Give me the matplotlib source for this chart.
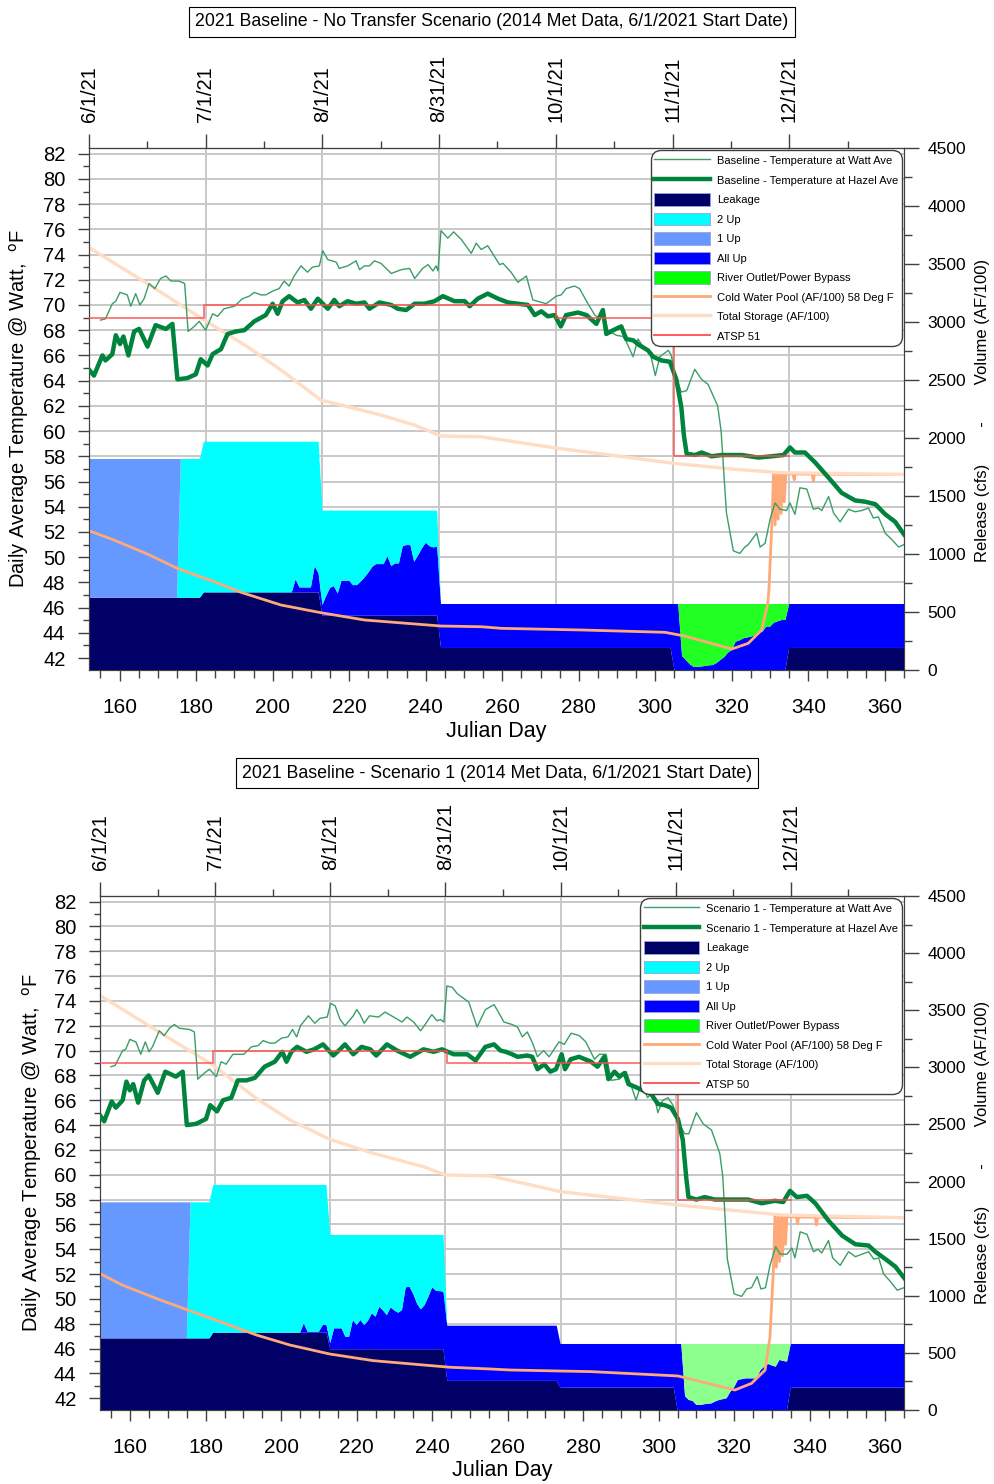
import numpy as np
import matplotlib
matplotlib.use('Agg')
import matplotlib.pyplot as plt
from matplotlib.lines import Line2D
from matplotlib.patches import Patch
from matplotlib.ticker import MultipleLocator, FixedLocator

plt.rcParams['font.family'] = ['Liberation Sans', 'DejaVu Sans']

# ---------------- data ----------------
DAY = np.arange(152, 366)                      # julian day, one value per day
MONTH_TICKS = [152, 182.5, 213, 243.5, 274, 304.5, 335]
MONTH_LABELS = ['6/1/21', '7/1/21', '8/1/21', '8/31/21', '10/1/21', '11/1/21', '12/1/21']

TITLES = ['2021 Baseline - No Transfer Scenario (2014 Met Data, 6/1/2021 Start Date)',
          '2021 Baseline - Scenario 1 (2014 Met Data, 6/1/2021 Start Date)']
RUN_NAMES = ['Baseline', 'Scenario 1']
ATSP_NAMES = ['ATSP 51', 'ATSP 50']

# release (cfs): constant pieces + daily All Up values
P1_LEAK = np.repeat([623, 669, 468, 190, 0, 190], [30, 31, 31, 61, 30, 31])
P1_TOTAL = np.repeat([1819, 1968, 1374, 569], [30, 31, 31, 122])
P1_ALLUP = np.concatenate([
    [0] * 53,
    [0, 112, 43, 43, 43, 43, 227, 164,
     92, 172, 240, 256, 192, 302, 302, 302, 264, 264, 293, 330, 371, 420, 445, 445,
     445, 514, 428, 451, 451, 600, 609, 609, 465, 520, 580, 629, 600, 589, 595],
    [379] * 61,
    [569, 569, 120, 86, 50, 28, 28, 30, 35, 40, 43, 60, 86, 110, 150, 172, 244, 255,
     273, 280, 287, 300, 320, 330, 374, 374, 408, 420, 431, 431],
    [379] * 31])

P2_LEAK = np.repeat([627, 677, 531, 255, 196, 0, 196], [30, 31, 31, 30, 31, 30, 31])
P2_TOTAL = np.repeat([1818, 1970, 1532, 738, 578], [30, 31, 31, 30, 92])
P2_ALLUP = np.concatenate([
    [0] * 53,
    [0, 82, 9, 9, 9, 9, 67, 67,
     53, 184, 184, 184, 111, 111, 257, 213, 257, 213, 250, 315, 286, 373, 340, 300,
     368, 340, 321, 344, 543, 548, 484, 400, 350, 388, 460, 543, 514, 510, 505],
    [483] * 30,
    [382] * 31,
    [578, 578, 120, 88, 80, 44, 44, 50, 55, 58, 75, 88, 95, 102, 160, 200, 263, 270,
     277, 277, 277, 277, 350, 380, 403, 390, 379, 438, 430, 423],
    [382] * 31])

# volumes (AF/100)
P1_CWP = [(152.2, 1198), (158.5, 1121), (167.3, 999), (175.1, 876), (184.7, 761), (191.7, 670),
          (202.2, 560), (212.6, 494), (224, 431), (237.1, 397), (244, 379), (254.5, 373),
          (259.8, 359), (280.7, 345), (302.5, 325), (307.7, 293), (320, 181), (324.3, 230),
          (327.8, 345), (329.4, 575), (329.7, 690), (330.4, 1207), (330.9, 1690), (331.3, 1250),
          (331.7, 1690), (332.1, 1300), (332.5, 1690), (332.9, 1350), (333.3, 1690), (333.7, 1450),
          (334.1, 1690), (336, 1690), (336.3, 1640), (336.6, 1690), (341, 1688), (341.3, 1630),
          (341.6, 1688), (365.0, 1686)]
P1_STORAGE = [(152.2, 3638), (167, 3336), (182.1, 3017), (193.4, 2787), (202.2, 2586),
              (212.6, 2327), (219.6, 2270), (228.3, 2198), (237, 2112), (244, 2017),
              (254.5, 2011), (274.6, 1911), (305.1, 1781), (320.8, 1730), (333, 1701),
              (365.0, 1686)]
P2_CWP = [(152.2, 1191), (157.9, 1094), (166.8, 978), (175.2, 876), (184.6, 764), (193.4, 657),
          (202.3, 569), (212.9, 490), (224.4, 432), (237.7, 394), (244.8, 374), (255.5, 359),
          (260.8, 350), (282.1, 336), (305.1, 298), (320.2, 175), (324.6, 233), (328.2, 350),
          (329.5, 642), (330.4, 1226), (330.8, 1693), (331.2, 1250), (331.6, 1693), (332.0, 1300),
          (332.4, 1693), (332.8, 1350), (333.2, 1693), (333.6, 1450), (334.0, 1693), (336.5, 1690),
          (336.8, 1630), (337.1, 1690), (341.5, 1688), (341.8, 1620), (342.1, 1688), (365.0, 1684)]
P2_STORAGE = [(152.2, 3625), (166.8, 3327), (181.9, 3020), (193.4, 2728), (202.3, 2539),
              (212.9, 2369), (224.4, 2247), (237.7, 2130), (243.5, 2058), (255.5, 2049),
              (274.1, 1911), (305.1, 1795), (332.6, 1707), (365.0, 1684)]

# temperature target (deg F), step after each day
P1_ATSP_DAY = [152, 182, 274, 305, 335]
P1_ATSP_T = [69, 70, 69, 58, 58]
P2_ATSP_DAY = [152, 182, 244, 305, 335]
P2_ATSP_T = [69, 70, 69, 58, 58]

# daily average temperatures (deg F)
P1_HAZEL = [(152.2, 64.8), (153.3, 64.4), (155.5, 66.0), (156.3, 65.6), (158.1, 66.1), (159.0, 67.6),
            (160.1, 66.9), (161.0, 67.5), (162.3, 66.0), (163.8, 67.9), (165.1, 68.1), (167.3, 66.7),
            (169.4, 68.4), (172.1, 68.1), (173.8, 68.5), (175.1, 64.1), (177.7, 64.2), (179.9, 64.5),
            (181.2, 65.7), (183.0, 65.2), (184.3, 66.1), (186.5, 66.5), (188.2, 67.7), (190.4, 67.9),
            (192.6, 68.0), (195.2, 68.7), (198.2, 69.2), (200.0, 70.1), (201.3, 69.3), (202.6, 70.3),
            (204.3, 70.7), (206.5, 70.2), (208.3, 70.4), (210.0, 69.7), (211.8, 70.5), (214.4, 69.7),
            (216.1, 70.4), (217.4, 69.9), (219.6, 70.3), (221.8, 70.1), (224.0, 70.2), (225.3, 69.7),
            (227.9, 70.2), (231.0, 70.0), (232.7, 69.7), (234.9, 69.6), (237.1, 70.1), (239.7, 70.1),
            (242.3, 70.3), (244.5, 70.7), (247.5, 70.3), (250.2, 70.3), (251.5, 69.9), (253.6, 70.5),
            (256.2, 70.9), (258.9, 70.5), (261.5, 70.2), (264.1, 70.1), (266.7, 70.0), (268.5, 69.2),
            (270.2, 69.5), (271.9, 69.1), (273.7, 69.2), (275.3, 68.3), (276.7, 69.2), (279.8, 69.4),
            (282.0, 69.2), (284.6, 68.5), (286.3, 69.6), (287.2, 67.7), (289.0, 68.0), (291.1, 68.3),
            (292.4, 67.3), (294.2, 67.2), (295.9, 66.8), (298.1, 66.4), (299.4, 65.9), (301.6, 65.6),
            (303.8, 65.5), (305.5, 64.1), (306.8, 61.9), (307.5, 59.6), (308.2, 58.2), (310.4, 58.1),
            (312.1, 58.3), (314.7, 58.0), (317.3, 58.1), (322.6, 58.1), (326.9, 57.9), (330.4, 58.0),
            (333.5, 58.1), (335.2, 58.7), (336.5, 58.3), (339.1, 58.3), (341.8, 57.5), (345.3, 56.3),
            (348.7, 55.1), (352.2, 54.5), (354.8, 54.4), (357.5, 54.2), (360.1, 53.4), (362.7, 52.8),
            (365.0, 51.8)]
P1_WATT = [(155.0, 68.8), (156.3, 68.9), (158.1, 70.1), (159.0, 70.3), (160.1, 71.0), (162.0, 70.8),
           (162.9, 69.9), (164.2, 70.9), (165.3, 70.0), (166.4, 70.5), (167.7, 71.7), (169.2, 71.3),
           (170.7, 72.1), (172.1, 72.3), (173.4, 71.9), (175.5, 71.9), (177.0, 71.7), (177.9, 67.9),
           (179.5, 68.3), (180.8, 68.7), (182.5, 68.0), (184.3, 69.3), (185.6, 69.1), (187.3, 69.7),
           (190.0, 69.9), (192.1, 70.5), (193.9, 70.7), (195.2, 71.0), (196.9, 70.8), (198.2, 70.8),
           (200.0, 71.1), (201.7, 71.3), (203.0, 71.9), (204.3, 71.5), (205.6, 72.3), (207.4, 73.1),
           (209.1, 72.6), (210.4, 73.0), (212.2, 73.1), (213.1, 74.3), (214.4, 73.6), (216.6, 73.4),
           (217.4, 72.9), (219.6, 73.1), (221.8, 73.5), (222.7, 72.8), (224.0, 73.1), (225.3, 73.1),
           (226.6, 73.5), (228.3, 73.3), (231.0, 72.5), (233.6, 72.8), (235.8, 72.9), (237.1, 72.1),
           (239.2, 72.9), (240.6, 73.2), (241.9, 72.7), (242.7, 73.1), (243.2, 72.7), (244.0, 75.9),
           (245.8, 75.3), (247.3, 75.8), (249.3, 75.2), (251.9, 74.1), (253.2, 74.9), (254.5, 74.4),
           (256.2, 74.7), (259.3, 73.2), (260.2, 73.3), (262.3, 72.6), (264.1, 71.8), (266.3, 72.3),
           (268.0, 70.4), (271.5, 70.1), (274.1, 70.7), (275.4, 70.8), (276.7, 71.3), (278.9, 71.5),
           (280.2, 71.3), (282.4, 70.1), (284.2, 69.2), (285.5, 68.9), (286.3, 69.7), (287.6, 68.0),
           (289.8, 67.6), (291.6, 67.5), (292.4, 67.1), (294.2, 65.9), (295.5, 67.3), (297.2, 66.5),
           (298.6, 66.3), (300.0, 64.4), (301.2, 65.9), (303.4, 66.4), (304.2, 66.0), (305.1, 64.5),
           (306.8, 63.1), (308.2, 63.2), (310.3, 64.9), (312.1, 64.1), (313.8, 63.7), (316.3, 62.0),
           (317.2, 60.0), (318.6, 53.5), (320.4, 50.5), (322.1, 50.3), (323.4, 50.8), (324.3, 51.0),
           (326.5, 51.9), (327.4, 50.8), (328.7, 51.1), (330.0, 53.0), (331.3, 54.3), (332.6, 53.8),
           (334.3, 53.7), (335.2, 54.3), (336.5, 53.4), (337.8, 55.5), (339.6, 55.4), (341.3, 53.8),
           (342.6, 53.9), (343.5, 53.7), (345.3, 54.8), (346.6, 53.5), (348.3, 52.8), (350.5, 53.8),
           (352.2, 53.6), (354.0, 53.7), (355.7, 53.9), (357.0, 53.1), (358.3, 53.2), (360.1, 51.9),
           (361.8, 51.4), (363.6, 50.8), (365.0, 51.0)]
P2_HAZEL = [(152.2, 64.7), (153.1, 64.3), (155.1, 65.9), (156.2, 65.4), (158.0, 66.0), (159.0, 67.5),
            (159.9, 66.8), (160.8, 67.3), (162.1, 65.8), (163.7, 67.6), (164.9, 68.0), (167.3, 66.6),
            (169.3, 68.3), (172.1, 67.9), (173.9, 68.3), (175.0, 64.0), (177.5, 64.1), (180.1, 64.5),
            (181.2, 65.6), (183.0, 65.1), (184.6, 66.0), (186.8, 66.2), (188.5, 67.6), (190.8, 67.6),
            (193.0, 67.8), (195.6, 68.7), (198.3, 69.1), (200.3, 69.9), (201.4, 69.1), (202.7, 69.9),
            (204.2, 70.3), (206.7, 69.9), (208.7, 70.1), (211.1, 70.5), (213.8, 69.6), (215.6, 70.1),
            (216.9, 70.5), (219.1, 69.7), (221.3, 70.3), (223.6, 70.1), (225.2, 69.6), (228.0, 70.5),
            (230.7, 70.0), (234.2, 69.5), (237.7, 70.1), (240.4, 69.9), (242.6, 70.1), (245.7, 69.7),
            (249.3, 69.7), (251.5, 69.2), (254.1, 70.3), (256.4, 70.5), (258.1, 70.0), (259.5, 69.9),
            (261.2, 69.7), (262.6, 69.5), (265.2, 69.6), (266.5, 69.5), (267.9, 68.5), (269.7, 68.9),
            (271.3, 68.3), (272.8, 68.5), (274.3, 69.7), (275.2, 68.5), (276.7, 69.3), (278.9, 69.5),
            (282.1, 69.1), (283.8, 68.7), (285.6, 69.5), (286.7, 67.7), (288.3, 68.3), (289.6, 67.9),
            (291.0, 68.2), (292.0, 67.3), (293.6, 67.1), (295.8, 66.8), (298.0, 66.5), (299.8, 65.7),
            (301.6, 65.6), (303.3, 65.4), (305.1, 64.5), (306.4, 62.8), (307.3, 59.8), (307.9, 58.2),
            (310.0, 58.0), (312.2, 58.2), (314.9, 58.0), (319.3, 58.0), (323.7, 58.0), (327.3, 57.7),
            (330.8, 57.9), (333.0, 57.8), (334.8, 58.7), (336.6, 58.2), (339.3, 58.3), (341.5, 57.7),
            (345.0, 56.3), (348.6, 55.1), (352.1, 54.4), (355.6, 54.3), (357.4, 53.8), (360.1, 53.2),
            (362.7, 52.6), (365.0, 51.7)]
P2_WATT = [(154.9, 68.7), (156.0, 68.8), (158.0, 70.0), (158.8, 70.1), (159.9, 70.9), (161.5, 70.7),
           (162.8, 69.7), (164.0, 70.7), (165.0, 69.9), (165.9, 70.3), (167.7, 71.6), (169.0, 71.2),
           (170.4, 71.8), (171.7, 72.1), (173.0, 71.8), (175.7, 71.7), (177.0, 71.5), (177.9, 67.7),
           (179.7, 68.2), (181.0, 68.5), (182.8, 67.9), (184.1, 69.1), (185.4, 68.9), (187.2, 69.7),
           (190.1, 69.7), (192.1, 70.3), (193.9, 70.4), (195.2, 70.8), (197.0, 70.6), (198.3, 70.6),
           (200.1, 71.0), (201.8, 71.1), (203.0, 71.7), (204.1, 71.1), (205.1, 72.0), (207.2, 72.8),
           (208.9, 72.2), (210.3, 72.6), (212.2, 72.7), (213.1, 73.8), (214.3, 73.6), (215.6, 72.5),
           (216.9, 72.0), (219.1, 72.8), (220.0, 73.3), (220.9, 72.9), (222.0, 72.2), (223.4, 72.8),
           (225.8, 72.7), (227.5, 73.1), (229.8, 72.7), (232.0, 72.3), (233.3, 72.7), (235.1, 72.3),
           (236.9, 71.6), (237.7, 71.9), (239.9, 72.9), (241.3, 72.4), (242.2, 72.5), (243.1, 72.3),
           (243.9, 75.2), (245.3, 75.1), (246.6, 74.6), (247.9, 74.3), (249.7, 73.9), (251.9, 71.9),
           (254.1, 73.3), (256.4, 73.7), (258.1, 72.8), (259.0, 72.3), (261.2, 72.1), (262.6, 71.9),
           (263.9, 71.1), (265.2, 71.5), (266.6, 70.6), (267.9, 69.5), (269.5, 70.0), (271.0, 69.5),
           (273.6, 70.7), (275.0, 70.5), (276.8, 71.4), (279.0, 71.2), (280.7, 70.7), (283.0, 69.3),
           (284.3, 69.7), (286.1, 69.7), (287.4, 67.6), (289.6, 67.7), (291.4, 68.3), (292.7, 67.2),
           (294.0, 66.0), (295.4, 67.3), (297.1, 66.2), (298.5, 66.8), (299.8, 65.0), (301.1, 66.0),
           (302.5, 66.2), (303.8, 65.6), (305.6, 64.0), (306.9, 63.3), (308.0, 63.3), (310.0, 65.0),
           (311.8, 64.1), (314.0, 63.6), (316.2, 61.7), (317.0, 59.8), (318.2, 53.2), (320.0, 50.4),
           (322.0, 50.2), (323.3, 50.8), (324.6, 50.9), (326.1, 51.8), (327.1, 50.8), (328.3, 50.9),
           (329.5, 52.7), (331.0, 54.2), (332.2, 53.6), (334.0, 53.6), (335.3, 54.1), (336.1, 53.3),
           (337.5, 55.4), (339.3, 55.2), (341.0, 53.8), (342.2, 54.0), (343.2, 53.7), (345.0, 54.7),
           (346.1, 53.3), (348.1, 52.7), (350.3, 53.8), (352.1, 53.4), (353.9, 53.6), (355.6, 53.8),
           (357.0, 53.2), (358.3, 53.3), (359.6, 52.0), (361.4, 51.4), (363.2, 50.7), (365.0, 50.9)]

# ---------------- style ----------------
C_LEAK, C_TWO, C_ONE, C_ALL, C_RO = '#000066', '#00FFFF', '#6699FF', '#0000FF', '#00FF00'
RO_FILL = ['#22FF22', '#8CFF8C']
C_CWP, C_STOR, C_ATSP = '#FFA878', '#FFDCC4', '#FF4D4D'
C_WATT, C_HAZEL = '#3A9E66', '#00843D'
GRID = '#C8C8C8'
SPINE = '#404040'
NARROW = ['Liberation Sans Narrow', 'Liberation Sans', 'DejaVu Sans']


def draw_panel(fig, rect, idx, leak, total, allup, cwp, storage, atsp_day, atsp_t, watt, hazel):
    ax = fig.add_axes(rect)
    ax.set_xlim(152, 365)
    ax.set_ylim(41.05, 82.45)
    ax.yaxis.set_major_locator(FixedLocator(np.arange(42, 83, 2)))
    ax.yaxis.set_minor_locator(MultipleLocator(1))
    ax.xaxis.set_major_locator(MultipleLocator(20))
    ax.xaxis.set_minor_locator(MultipleLocator(5))
    ax.yaxis.grid(True, color=GRID, lw=1.4)
    for t in MONTH_TICKS[1:]:
        ax.axvline(t, color=GRID, lw=1.4, zorder=0.5)
    ax.set_axisbelow(True)
    ax.tick_params(axis='y', which='major', direction='out', length=8, width=1, labelsize=14.5, pad=9, color=SPINE)
    ax.tick_params(axis='y', which='minor', direction='out', length=4, width=1, color=SPINE)
    ax.tick_params(axis='x', which='major', direction='out', length=8, width=1, labelsize=15, pad=12, color=SPINE)
    ax.tick_params(axis='x', which='minor', direction='out', length=6, width=1, color=SPINE)
    ax.set_xlabel('Julian Day', fontsize=15.5)
    ax.xaxis.set_label_coords(0.5, -0.098)
    ax.set_ylabel('Daily Average Temperature @ Watt,  $^{\\mathrm{o}}$F', fontsize=14.5)

    top = ax.secondary_xaxis('top')
    top.set_xticks(MONTH_TICKS, labels=MONTH_LABELS, rotation=90, fontsize=14.5)
    top.xaxis.set_minor_locator(FixedLocator([t + 15.25 for t in MONTH_TICKS]))
    top.tick_params(which='major', direction='out', length=10, width=1, pad=9, color=SPINE)
    top.tick_params(which='minor', direction='out', length=5, width=1, color=SPINE)

    # release and volume on the right axis
    ax2 = ax.twinx()
    ax2.set_ylim(0, 4500)
    ax2.yaxis.set_major_locator(MultipleLocator(500))
    ax2.yaxis.set_minor_locator(MultipleLocator(250))
    ax2.tick_params(axis='y', which='major', direction='out', length=11, width=1, labelsize=12.5, pad=6, color=SPINE)
    ax2.tick_params(axis='y', which='minor', direction='out', length=6, width=1, color=SPINE)
    ax2.set_ylabel('Release (cfs)        -        Volume (AF/100)', fontsize=12)

    rest = total - leak - allup
    one_up = np.where(DAY <= 175, rest, 0)
    two_up = np.where((DAY > 175) & (DAY <= 243), rest, 0)
    river = np.where((DAY >= 307) & (DAY <= 334), rest, 0)
    ax2.stackplot(DAY, leak, allup, two_up, one_up, river,
                  colors=[C_LEAK, C_ALL, C_TWO, C_ONE, RO_FILL[idx]], lw=0)
    cd, cv = zip(*cwp)
    ax2.plot(cd, cv, color=C_CWP, lw=2)
    sd, sv = zip(*storage)
    ax2.plot(sd, sv, color=C_STOR, lw=2.4)

    for a in (ax, ax2):
        for s in a.spines.values():
            s.set_color(SPINE)
    top.spines['top'].set_color(SPINE)

    # temperatures on top of everything
    ax3 = ax.twinx()
    ax3.set_ylim(ax.get_ylim())
    ax3.axis('off')
    wd, wv = zip(*watt)
    ax3.plot(wd, wv, color=C_WATT, lw=1.0)
    hd, hv = zip(*hazel)
    ax3.plot(hd, hv, color=C_HAZEL, lw=3.2, solid_joinstyle='round')
    ax3.plot(atsp_day, atsp_t, color=C_ATSP, lw=1.3, alpha=0.8, drawstyle='steps-post')

    pe = dict(edgecolor='#9AA0DD', lw=0.6)
    handles = [Line2D([], [], color=C_WATT, lw=1.0),
               Line2D([], [], color=C_HAZEL, lw=3.2),
               Patch(facecolor=C_LEAK, **pe), Patch(facecolor=C_TWO, **pe),
               Patch(facecolor=C_ONE, **pe), Patch(facecolor=C_ALL, **pe),
               Patch(facecolor=C_RO, **pe),
               Line2D([], [], color=C_CWP, lw=2), Line2D([], [], color=C_STOR, lw=2.4),
               Line2D([], [], color=C_ATSP, lw=1.3)]
    labels = [RUN_NAMES[idx] + ' - Temperature at Watt Ave',
              RUN_NAMES[idx] + ' - Temperature at Hazel Ave',
              'Leakage', '2 Up', '1 Up', 'All Up', 'River Outlet/Power Bypass',
              'Cold Water Pool (AF/100) 58 Deg F', 'Total Storage (AF/100)', ATSP_NAMES[idx]]
    leg = ax3.legend(handles, labels, loc='upper right', borderaxespad=0.2,
                     prop={'family': NARROW, 'size': 8.0}, handlelength=5.0, handleheight=1.4,
                     labelspacing=0.6, borderpad=0.35, handletextpad=0.6,
                     fancybox=True, framealpha=1, edgecolor=SPINE)
    leg.get_frame().set_linewidth(1.0)
    leg.get_frame().set_boxstyle('round', pad=0, rounding_size=0.9)
    return ax, ax2


fig = plt.figure(figsize=(9.95, 14.84), dpi=100)

axa, axa2 = draw_panel(fig, [89 / 995, 1 - 670 / 1484, 815 / 995, 522 / 1484], 0,
                       P1_LEAK, P1_TOTAL, P1_ALLUP, P1_CWP, P1_STORAGE,
                       P1_ATSP_DAY, P1_ATSP_T, P1_WATT, P1_HAZEL)
axa.yaxis.set_label_coords(-0.071, 0.5)
axa2.yaxis.set_label_coords(1.087, 0.498)

axb, axb2 = draw_panel(fig, [100 / 995, 1 - 1410 / 1484, 804 / 995, 514 / 1484], 1,
                       P2_LEAK, P2_TOTAL, P2_ALLUP, P2_CWP, P2_STORAGE,
                       P2_ATSP_DAY, P2_ATSP_T, P2_WATT, P2_HAZEL)
axb.yaxis.set_label_coords(-0.070, 0.5)
axb2.yaxis.set_label_coords(1.088, 0.502)

box = dict(boxstyle='square,pad=0.35', fc='white', ec='black', lw=0.8)
fig.text(492 / 995, 1 - 22 / 1484, TITLES[0], ha='center', va='center', fontsize=12.8, bbox=box)
fig.text(497 / 995, 1 - 773 / 1484, TITLES[1], ha='center', va='center', fontsize=12.8, bbox=box)

fig.savefig('out.png', dpi=100)
